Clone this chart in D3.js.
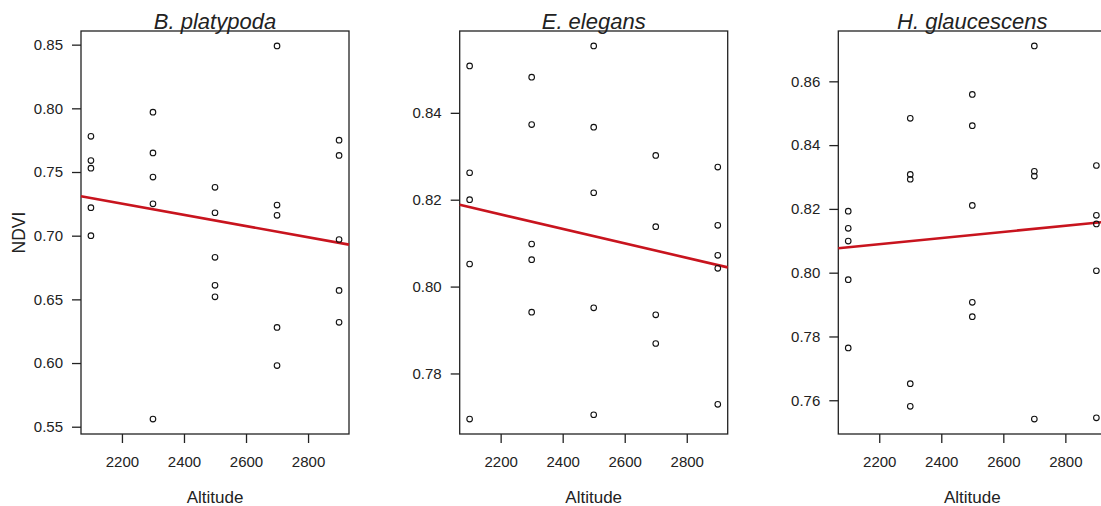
<!DOCTYPE html>
<html>
<head>
<meta charset="utf-8">
<script src="https://cdn.jsdelivr.net/npm/d3@7"></script>
<style>
  body { margin: 0; background: #fff; }
  svg { font-family: "Liberation Sans", Arial, sans-serif; }
</style>
</head>
<body>
<div id="chart"></div>
<script>
// Species shown in the three panels
const species = ["B. platypoda", "E. elegans", "H. glaucescens"];

// Altitude of each sample point (same sites for every species)
const altB = [2100, 2100, 2100, 2100, 2100, 2300, 2300, 2300, 2300, 2300,
              2500, 2500, 2500, 2500, 2500, 2700, 2700, 2700, 2700, 2700,
              2900, 2900, 2900, 2900, 2900];
const ndviB = [0.778, 0.759, 0.753, 0.722, 0.700, 0.797, 0.765, 0.746, 0.725, 0.556,
               0.738, 0.718, 0.683, 0.661, 0.652, 0.849, 0.724, 0.716, 0.628, 0.598,
               0.775, 0.763, 0.697, 0.657, 0.632];

const altE = [2100, 2100, 2100, 2100, 2100, 2300, 2300, 2300, 2300, 2300,
              2500, 2500, 2500, 2500, 2500, 2700, 2700, 2700, 2700,
              2900, 2900, 2900, 2900, 2900];
const ndviE = [0.8508, 0.8262, 0.8200, 0.8052, 0.7695, 0.8482, 0.8373, 0.8098, 0.8062, 0.7941,
               0.8554, 0.8367, 0.8216, 0.7951, 0.7705, 0.8302, 0.8138, 0.7935, 0.7869,
               0.8275, 0.8141, 0.8072, 0.8042, 0.7729];

const altH = [2100, 2100, 2100, 2100, 2100, 2300, 2300, 2300, 2300, 2300,
              2500, 2500, 2500, 2500, 2500, 2700, 2700, 2700, 2700,
              2900, 2900, 2900, 2900, 2900];
const ndviH = [0.8193, 0.8139, 0.8099, 0.7978, 0.7764, 0.8484, 0.8308, 0.8293, 0.7652, 0.7581,
               0.8559, 0.8461, 0.8211, 0.7907, 0.7862, 0.8711, 0.8318, 0.8303, 0.7541,
               0.8336, 0.8180, 0.8153, 0.8006, 0.7545];

// Fitted lines: NDVI = intercept + slope * altitude
const fitIntercept = [0.822, 0.8533, 0.7877];
const fitSlope = [-4.4e-5, -1.667e-5, 9.65e-6];

// Axis ticks
const xTicks = [2200, 2400, 2600, 2800];
const yTicksB = [0.55, 0.60, 0.65, 0.70, 0.75, 0.80, 0.85];
const yTicksE = [0.78, 0.80, 0.82, 0.84];
const yTicksH = [0.76, 0.78, 0.80, 0.82, 0.84, 0.86];

const panels = [
    {name: species[0], alt: altB, ndvi: ndviB, ticks: yTicksB, ylab: "NDVI"},
    {name: species[1], alt: altE, ndvi: ndviE, ticks: yTicksE, ylab: null},
    {name: species[2], alt: altH, ndvi: ndviH, ticks: yTicksH, ylab: null}
];

const W = 1101, H = 506;
const svg = d3.select("#chart").append("svg")
    .attr("width", W)
    .attr("height", H);

const panelLeft = [81, 459.7, 838.3];
const pw = 268, plotTop = 31, plotBottom = 434;

// R style 4% padding on the data range
function pad(ext) {
    const d = (ext[1] - ext[0]) * 0.04;
    return [ext[0] - d, ext[1] + d];
}

panels.forEach(function(p, i) {
    const g = svg.append("g")
        .attr("transform", "translate(" + panelLeft[i] + ",0)");

    const x = d3.scaleLinear().domain(pad(d3.extent(p.alt))).range([0, pw]);
    const y = d3.scaleLinear().domain(pad(d3.extent(p.ndvi))).range([plotBottom, plotTop]);

    // box
    g.append("rect")
        .attr("x", 0).attr("y", plotTop)
        .attr("width", pw).attr("height", plotBottom - plotTop)
        .attr("fill", "none")
        .attr("stroke", "#222")
        .attr("stroke-width", 1.3);

    // x axis
    const xAxis = g.append("g")
        .attr("transform", "translate(0," + plotBottom + ")")
        .call(d3.axisBottom(x).tickValues(xTicks).tickSize(9).tickPadding(13).tickFormat(d3.format("d")));
    xAxis.select(".domain").remove();

    // y axis
    const yAxis = g.append("g")
        .call(d3.axisLeft(y).tickValues(p.ticks).tickSize(9).tickPadding(9).tickFormat(d3.format(".2f")));
    yAxis.select(".domain").remove();

    [xAxis, yAxis].forEach(function(a) {
        a.selectAll("line").attr("stroke", "#222").attr("stroke-width", 1.3);
        a.selectAll("text")
            .attr("fill", "#222")
            .style("font-size", "15px")
            .style("font-family", "'Liberation Sans', Arial, sans-serif");
    });

    // regression line
    const xd = x.domain();
    g.append("line")
        .attr("x1", x(xd[0])).attr("y1", y(fitIntercept[i] + fitSlope[i] * xd[0]))
        .attr("x2", x(xd[1])).attr("y2", y(fitIntercept[i] + fitSlope[i] * xd[1]))
        .attr("stroke", "#c8141e")
        .attr("stroke-width", 2.6);

    // points
    g.selectAll(".pt")
        .data(p.ndvi)
        .enter().append("circle")
        .attr("class", "pt")
        .attr("cx", (d, j) => x(p.alt[j]))
        .attr("cy", d => y(d))
        .attr("r", 2.8)
        .attr("fill", "none")
        .attr("stroke", "#111")
        .attr("stroke-width", 1.1);

    // title
    g.append("text")
        .attr("x", pw / 2)
        .attr("y", 29)
        .attr("text-anchor", "middle")
        .style("font-size", "22px")
        .style("font-style", "italic")
        .attr("fill", "#222")
        .text(p.name);

    // x label
    g.append("text")
        .attr("x", pw / 2)
        .attr("y", 503)
        .attr("text-anchor", "middle")
        .style("font-size", "17px")
        .attr("fill", "#222")
        .text("Altitude");

    if (p.ylab) {
        g.append("text")
            .attr("transform", "rotate(-90)")
            .attr("x", -232.5)
            .attr("y", -56)
            .attr("text-anchor", "middle")
            .style("font-size", "17.5px")
            .attr("fill", "#222")
            .text(p.ylab);
    }
});
</script>
</body>
</html>
